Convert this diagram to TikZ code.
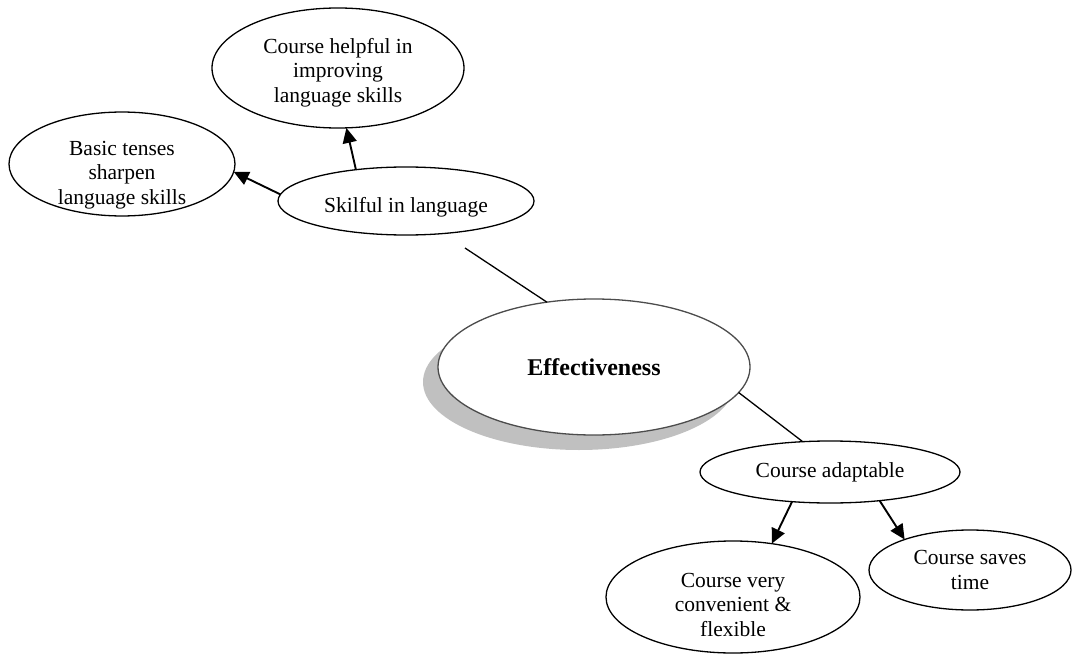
\documentclass[tikz,border=0pt]{standalone}
\usepackage{fontspec}
\setmainfont{Liberation Serif}
\usetikzlibrary{shapes.geometric,arrows.meta,shadows}
\definecolor{shadegray}{HTML}{C0C0C0}
% move a centred block down without changing its size
\newcommand{\lowered}[2]{\raisebox{-#1}[\height][\depth]{\begin{tabular}{@{}c@{}}#2\end{tabular}}}
\begin{document}
\begin{tikzpicture}[x=1pt,y=-1pt,
  bubble/.style={ellipse, draw=black, line width=1.3pt, fill=white,
    inner sep=0pt, outer sep=0pt, align=center,
    font=\fontsize{21.5}{24.5}\selectfont},
  arrowline/.style={line width=1.9pt, -{Triangle[length=15pt,width=14pt]}},
  plainline/.style={line width=1.3pt}]
\useasboundingbox (0,0) rectangle (1073,655);

% central topic with its offset grey shadow
\node[bubble, draw=black!70, minimum width=312pt, minimum height=136pt,
  general shadow={fill=shadegray, shadow xshift=-15pt, shadow yshift=-15pt},
  font=\fontsize{24}{28}\selectfont\bfseries] (eff) at (594,367) {Effectiveness};

% language branch
\node[bubble, minimum width=256pt, minimum height=68pt] (sk) at (406,201)
  {\lowered{7pt}{Skilful in language}};
\node[bubble, minimum width=252pt, minimum height=120pt] (help) at (338,68)
  {\lowered{5pt}{Course helpful in\\improving\\language skills}};
\node[bubble, minimum width=226pt, minimum height=102pt] (basic) at (122,164)
  {\lowered{11pt}{Basic tenses\\sharpen\\language skills}};

% adaptability branch
\node[bubble, minimum width=260pt, minimum height=62pt] (ad) at (830,472) {Course adaptable};
\node[bubble, minimum width=254pt, minimum height=112pt] (conv) at (733,597)
  {\lowered{10pt}{Course very\\convenient \&\\flexible}};
\node[bubble, minimum width=202pt, minimum height=80pt] (saves) at (970,570)
  {\lowered{2pt}{Course saves\\time}};

% connectors
\coordinate (skfoot) at (465,248);
\draw[plainline] (skfoot) -- (eff.126);
\draw[plainline] (eff.-10) -- (ad.132);
\draw[arrowline] (sk.148) -- (help.-82);
\draw[arrowline] (sk.177) -- (basic.-4.5);
\draw[arrowline] (ad.-142) -- (conv.54);
\draw[arrowline] (ad.-30) -- (saves.155);
\end{tikzpicture}
\end{document}
